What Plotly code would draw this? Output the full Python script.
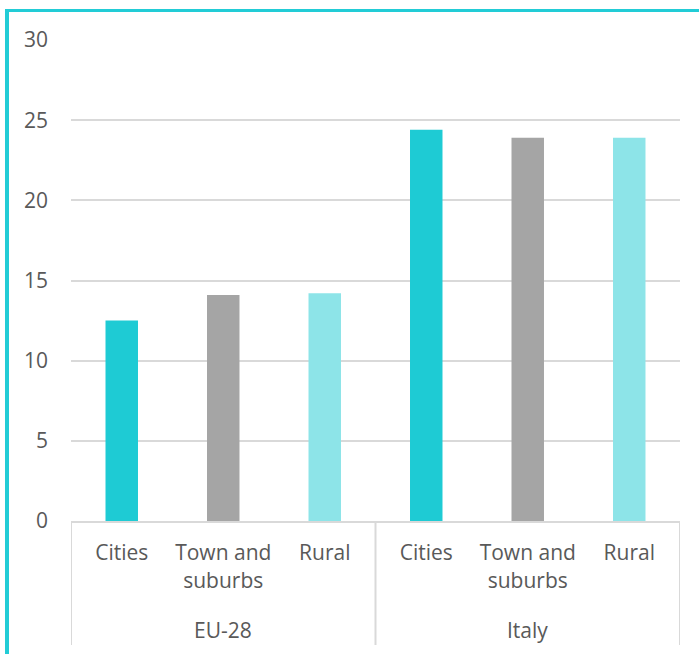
import plotly.graph_objects as go

# Share of population by degree of urbanisation
regions = ["EU-28", "Italy"]
areas = ["Cities", "Town and<br>suburbs", "Rural"]
values = [12.5, 14.1, 14.2, 24.4, 23.9, 23.9]
area_colors = ["#1ECBD4", "#A5A5A5", "#8DE4E8"]

n_areas = len(areas)
positions = list(range(len(regions) * n_areas))
tick_text = areas * len(regions)
bar_colors = area_colors * len(regions)

W, H = 699, 654
L, R, T, B = 71, 19, 40, 133
pw, ph = W - L - R, H - T - B

def px_x(x):
    return (x - L) / pw

def px_y(y):
    return 1 - (y - T) / ph

GRID = "#D9D9D9"
TEXT = "#595959"
FRAME = "#22CCD6"
font = dict(family="Open Sans, sans-serif", size=21, color=TEXT)

fig = go.Figure(
    go.Bar(
        x=positions,
        y=values,
        marker=dict(color=bar_colors, line=dict(width=0)),
        width=0.32,
        hoverinfo="y",
    )
)

shapes = []
# group dividers below the category axis
for g in range(len(regions) + 1):
    xd = g * n_areas - 0.5
    shapes.append(dict(type="line", xref="x", yref="paper",
                       x0=xd, x1=xd, y0=0, y1=px_y(645),
                       line=dict(color=GRID, width=2)))
# teal frame along the top and left edges
shapes.append(dict(type="rect", xref="paper", yref="paper",
                   x0=px_x(5), x1=px_x(W + 5), y0=px_y(12), y1=px_y(9),
                   fillcolor=FRAME, line=dict(width=0), layer="above"))
shapes.append(dict(type="rect", xref="paper", yref="paper",
                   x0=px_x(5), x1=px_x(9), y0=px_y(H + 5), y1=px_y(9),
                   fillcolor=FRAME, line=dict(width=0), layer="above"))

annotations = []
for g, name in enumerate(regions):
    annotations.append(dict(
        x=g * n_areas + (n_areas - 1) / 2, y=px_y(630),
        xref="x", yref="paper", text=name, showarrow=False,
        xanchor="center", yanchor="middle", font=font,
    ))

fig.update_layout(
    width=W,
    height=H,
    margin=dict(l=L, r=R, t=T, b=B),
    paper_bgcolor="white",
    plot_bgcolor="white",
    showlegend=False,
    font=font,
    xaxis=dict(
        range=[-0.5, len(positions) - 0.5],
        tickmode="array",
        tickvals=positions,
        ticktext=tick_text,
        showline=True,
        linecolor=GRID,
        linewidth=2,
        showgrid=False,
        zeroline=False,
        ticks="",
        ticklabelstandoff=12,
        tickfont=font,
    ),
    yaxis=dict(
        range=[0, 30],
        dtick=5,
        showgrid=True,
        gridcolor=GRID,
        gridwidth=2,
        zeroline=False,
        showline=False,
        ticks="",
        ticklabelstandoff=22,
        tickfont=font,
    ),
    shapes=shapes,
    annotations=annotations,
)

fig.write_html("out.html")
